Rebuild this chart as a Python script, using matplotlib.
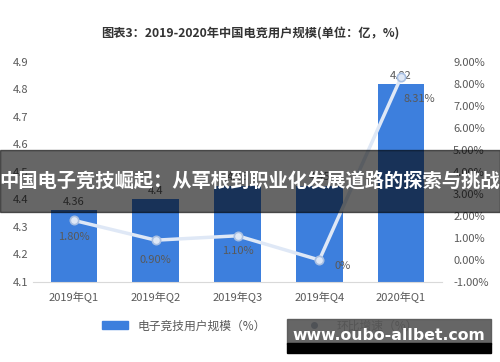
import numpy as np
import matplotlib.pyplot as plt
from matplotlib.patches import Rectangle
from matplotlib.lines import Line2D

plt.rcParams['font.family'] = ['Noto Sans CJK SC', 'DejaVu Sans']

# data
quarters = ["2019年Q1", "2019年Q2", "2019年Q3", "2019年Q4", "2020年Q1"]
users = [4.36, 4.4, 4.45, 4.45, 4.82]
user_labels = ["4.36", "4.4", "4.45", "4.45", "4.82"]
growth = [1.80, 0.90, 1.10, 0.0, 8.31]
growth_labels = ["1.80%", "0.90%", "1.10%", "0%", "8.31%"]

bar_color = "#3d7fdd"
gray = "#595959"

fig = plt.figure(figsize=(5, 3.62), dpi=100)
ax = fig.add_axes([0.066, 0.221, 0.818, 0.608])
x = np.arange(len(quarters))

ax.bar(x, users, width=0.57, color=bar_color, zorder=2)
ax.set_ylim(4.1, 4.9)
ax.set_xlim(-0.5, 4.5)
ax.set_yticks(np.arange(4.1, 4.91, 0.1))
ax.set_yticklabels(["%.1f" % v for v in np.arange(4.1, 4.91, 0.1)])
ax.set_xticks(x)
ax.set_xticklabels(quarters)
ax.tick_params(length=0, labelsize=8, colors=gray)
ax.tick_params(axis='x', pad=7)
for s in ["top", "right", "left"]:
    ax.spines[s].set_visible(False)
ax.spines["bottom"].set_color("#d9d9d9")

for i, v in enumerate(users):
    ax.text(i, v + 0.012, user_labels[i], ha="center", va="bottom",
            fontsize=8, color=gray)

ax2 = ax.twinx()
ax2.set_ylim(-1, 9)
ax2.set_yticks(np.arange(-1, 10, 1))
ax2.set_yticklabels(["%.2f%%" % v for v in np.arange(-1, 10, 1)])
ax2.tick_params(length=0, labelsize=8, colors=gray, pad=8)
for s in ax2.spines.values():
    s.set_visible(False)
ax2.plot(x, growth, color="#dfe8f6", lw=2.5, marker="o", ms=6,
         mfc="#dfe8f6", mec="#a8bfe2", mew=1.2, zorder=3)

offs = [(0, -12), (0, -14), (0, -11), (17, -4), (13, -16)]
for i, (lab, (dx, dy)) in enumerate(zip(growth_labels, offs)):
    ax2.annotate(lab, (i, growth[i]), xytext=(dx, dy), textcoords="offset points",
                 ha="center", va="center", fontsize=8, color=gray)

fig.text(0.5, 0.905, "图表3：2019-2020年中国电竞用户规模(单位：亿，%)",
         ha="center", va="center", fontsize=8.8, fontweight="bold", color="#333333")

# legend
handles = [Rectangle((0, 0), 1, 1, color=bar_color),
           Line2D([], [], color="none", marker="o", ms=4, mfc="#1f3864", mec="#1f3864")]
fig.legend(handles, ["电子竞技用户规模（%）", "环比增速（%）"], loc="center",
           bbox_to_anchor=(0.52, 0.1), ncol=2, frameon=False, fontsize=8.5,
           labelcolor=gray, handlelength=2.2, handleheight=0.6, columnspacing=3)

# overlay banner
fig.patches.append(Rectangle((0, 0.415), 1, 0.17, transform=fig.transFigure,
                             color="black", alpha=0.6, zorder=10))
fig.text(0.5, 0.497, "中国电子竞技崛起：从草根到职业化发展道路的探索与挑战",
         ha="center", va="center", fontsize=13.9, fontweight="bold",
         color="white", zorder=11)

# watermark box
fig.patches.append(Rectangle((0.574, 0.05), 0.408, 0.07, transform=fig.transFigure,
                             color="#555555", alpha=0.9, zorder=10))
fig.patches.append(Rectangle((0.574, 0.025), 0.408, 0.028, transform=fig.transFigure,
                             color="black", zorder=10))
fig.text(0.778, 0.074, "www.oubo-allbet.com", ha="center", va="center",
         fontsize=11.3, fontweight="bold", color="white", zorder=11,
         family="DejaVu Sans")

fig.savefig("out.png", dpi=100)
